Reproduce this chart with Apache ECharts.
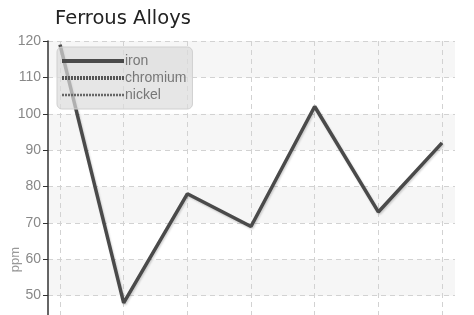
<!DOCTYPE html>
<html>
<head>
<meta charset="utf-8">
<script src="https://cdn.jsdelivr.net/npm/echarts@6/dist/echarts.min.js"></script>
<style>
  html, body { margin: 0; padding: 0; background: #fff; }
  #chart { width: 474px; height: 315px; }
</style>
</head>
<body>
<div id="chart"></div>
<script>
// data
var categories = ['1', '2', '3', '4', '5', '6', '7'];
var iron = [119, 48, 78, 69, 102, 73, 92];
var chromium = [];
var nickel = [];
var yTicks = [40, 50, 60, 70, 80, 90, 100, 110, 120];

window.onload = function() {
  drawChart();
};

function drawChart() {
  var chart = echarts.init(document.getElementById('chart'));
  var labelFont = '"Liberation Sans Narrow", "Liberation Sans", sans-serif';
  var option = {
    animation: false,
    title: {
      text: 'Ferrous Alloys',
      left: 50,
      top: 4,
      textStyle: {
        fontFamily: 'DejaVu Sans',
        fontSize: 19.5,
        fontWeight: 'normal',
        color: '#222'
      }
    },
    legend: {
      orient: 'vertical',
      left: 57,
      top: 47,
      itemWidth: 62,
      itemHeight: 10,
      itemGap: 3,
      padding: [7, 6, 7, 3],
      backgroundColor: 'rgba(220,220,220,0.7)',
      borderColor: '#d0d0d0',
      borderWidth: 1,
      borderRadius: 5,
      itemStyle: {opacity: 0},
      textStyle: {fontFamily: labelFont, fontSize: 14, color: '#777', padding: [0, 0, 0, -4]},
      data: [
        {name: 'iron', lineStyle: {width: 4, color: '#4a4a4a', type: 'solid'}},
        {name: 'chromium', lineStyle: {width: 4, color: '#555', type: [2, 1]}},
        {name: 'nickel', lineStyle: {width: 2.5, color: '#666', type: [2, 1]}}
      ]
    },
    grid: [
      {left: 48, right: 19, top: 41, height: 291, outerBoundsMode: 'none'},
      {left: 60, right: 32, top: 41, height: 291, outerBoundsMode: 'none'}
    ],
    xAxis: [
      {
        gridIndex: 0,
        type: 'value',
        show: false
      },
      {
        gridIndex: 1,
        type: 'category',
        boundaryGap: false,
        data: categories,
        axisLine: {show: false},
        axisTick: {show: false},
        axisLabel: {show: false},
        splitLine: {
          show: true,
          lineStyle: {color: '#d2d2d2', type: [5, 4], width: 1}
        }
      }
    ],
    yAxis: [
      {
        gridIndex: 0,
        type: 'value',
        min: yTicks[0],
        max: yTicks[yTicks.length - 1],
        interval: 10,
        axisLine: {show: true, lineStyle: {color: '#333', width: 1.5}},
        axisTick: {show: true, length: 5, lineStyle: {color: '#333'}},
        axisLabel: {
          fontFamily: labelFont,
          fontSize: 14,
          color: '#888',
          margin: 7,
          formatter: function(v) { return v === yTicks[0] ? '' : v; }
        },
        splitLine: {
          show: true,
          lineStyle: {color: '#d2d2d2', type: [5, 4], width: 1}
        },
        splitArea: {
          show: true,
          areaStyle: {color: ['#ffffff', '#f6f6f6']}
        }
      },
      {
        gridIndex: 1,
        type: 'value',
        min: yTicks[0],
        max: yTicks[yTicks.length - 1],
        interval: 10,
        show: false
      }
    ],
    graphic: [{
      type: 'text',
      left: 9,
      top: 247,
      rotation: Math.PI / 2,
      style: {
        text: 'ppm',
        fontFamily: labelFont,
        fontSize: 13,
        fill: '#999'
      }
    }],
    series: [
      {
        name: 'iron',
        type: 'line',
        xAxisIndex: 1,
        yAxisIndex: 1,
        symbol: 'none',
        data: iron,
        color: '#4a4a4a',
        lineStyle: {
          width: 3.5,
          color: '#4a4a4a',
          shadowColor: 'rgba(0,0,0,0.18)',
          shadowBlur: 2,
          shadowOffsetX: 1,
          shadowOffsetY: 1.5
        },
        z: 2
      },
      {
        name: 'chromium',
        type: 'line',
        xAxisIndex: 1,
        yAxisIndex: 1,
        symbol: 'none',
        data: chromium,
        color: '#555',
        lineStyle: {width: 4, color: '#555', type: [2, 1]}
      },
      {
        name: 'nickel',
        type: 'line',
        xAxisIndex: 1,
        yAxisIndex: 1,
        symbol: 'none',
        data: nickel,
        color: '#666',
        lineStyle: {width: 2.5, color: '#666', type: [2, 1]}
      }
    ]
  };
  chart.setOption(option);
}
</script>
</body>
</html>
